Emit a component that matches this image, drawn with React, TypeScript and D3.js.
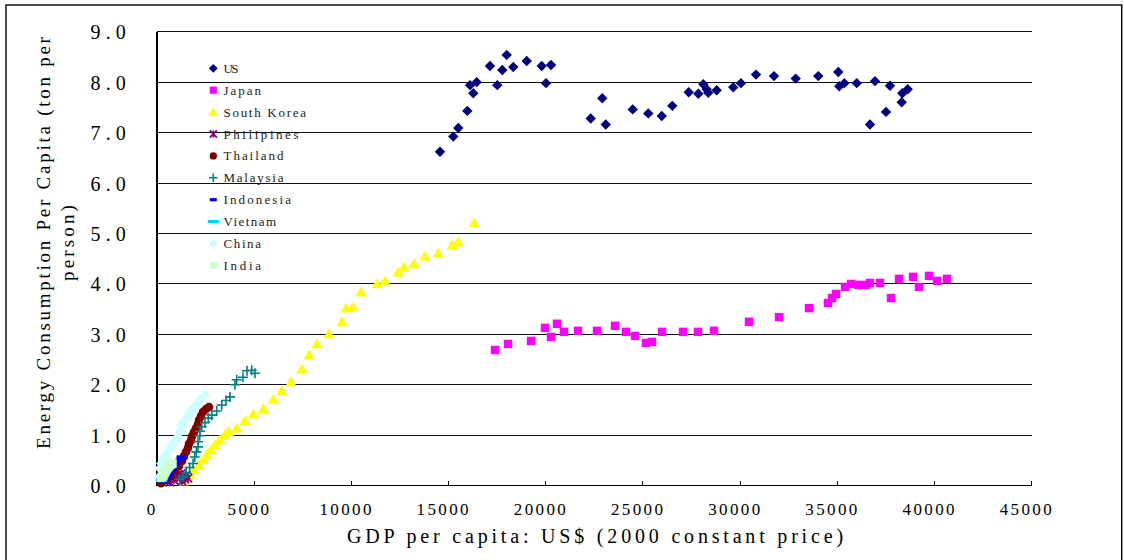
import React from "react";
import * as d3 from "d3";

type Pt = [number, number];

const usData: Pt[] = [
  [14559, 6.62], [15243, 6.92], [15501, 7.09], [15964, 7.43], [16272, 7.78], [16103, 7.94],
  [16447, 8.0], [17131, 8.32], [17507, 7.94], [17764, 8.24], [17990, 8.54], [18330, 8.3],
  [19020, 8.42], [19791, 8.32], [20270, 8.34], [20012, 7.98], [22312, 7.28], [22909, 7.68],
  [23084, 7.16], [24473, 7.46], [25275, 7.38], [25965, 7.33], [26510, 7.53], [27354, 7.8],
  [27848, 7.77], [28105, 7.96], [28280, 7.86], [28362, 7.79], [28794, 7.84], [29648, 7.9],
  [30044, 7.98], [30816, 8.15], [31742, 8.12], [32858, 8.07], [34021, 8.12], [35050, 8.2],
  [35101, 7.92], [35358, 7.98], [35997, 7.98], [36681, 7.16], [36938, 8.02], [37504, 7.41],
  [37710, 7.93], [38311, 7.6], [38343, 7.78], [38620, 7.86],
];

const japanData: Pt[] = [
  [17389, 2.69], [18057, 2.81], [19241, 2.87], [19961, 3.13], [20270, 2.95], [20578, 3.21],
  [20938, 3.05], [21659, 3.07], [22636, 3.07], [23562, 3.17], [24128, 3.05], [24591, 2.97],
  [25157, 2.83], [25466, 2.85], [25980, 3.05], [27061, 3.05], [27832, 3.05], [28655, 3.07],
  [30456, 3.25], [32000, 3.34], [33543, 3.52], [34520, 3.62], [34726, 3.72], [34932, 3.8],
  [35395, 3.94], [35703, 4.0], [36063, 3.98], [36475, 3.98], [36681, 4.02], [37195, 4.02],
  [37761, 3.72], [38173, 4.1], [38893, 4.14], [39202, 3.94], [39716, 4.16], [40128, 4.06],
  [40642, 4.1],
];

const koreaData: Pt[] = [
  [1338, 0.09], [1528, 0.15], [1698, 0.21], [1867, 0.31], [2125, 0.41], [2382, 0.51],
  [2557, 0.61], [2763, 0.71], [2984, 0.81], [3241, 0.91], [3498, 1.02], [3668, 1.07],
  [4100, 1.14], [4527, 1.29], [4954, 1.42], [5469, 1.53], [5983, 1.71], [6415, 1.88],
  [6894, 2.06], [7444, 2.31], [7820, 2.59], [8216, 2.81], [8849, 3.01], [9517, 3.25],
  [9723, 3.52], [10083, 3.54], [10495, 3.84], [11318, 4.0], [11730, 4.06], [12398, 4.23],
  [12707, 4.33], [13222, 4.4], [13787, 4.55], [14456, 4.61], [15176, 4.77], [15485, 4.83],
  [16308, 5.21],
];

const philippinesData: Pt[] = [
  [669, 0.07], [875, 0.11], [1029, 0.15], [1183, 0.17], [1338, 0.19], [1492, 0.21],
  [1440, 0.13], [1286, 0.09], [1595, 0.15], [1100, 0.22], [1250, 0.24],
];

const thailandData: Pt[] = [
  [206, 0.05], [463, 0.11], [720, 0.19], [926, 0.29], [1132, 0.39], [1286, 0.49],
  [1389, 0.59], [1492, 0.67], [1595, 0.75], [1646, 0.83], [1749, 0.9], [1801, 0.98],
  [1903, 1.06], [2006, 1.14], [2109, 1.22], [2161, 1.3], [2264, 1.38], [2367, 1.46],
  [2521, 1.52], [2675, 1.56],
];

const malaysiaData: Pt[] = [
  [1168, 0.13], [1338, 0.18], [1507, 0.25], [1682, 0.36], [1852, 0.44], [1939, 0.57],
  [2022, 0.67], [2109, 0.77], [2109, 0.87], [2197, 0.99], [2212, 1.08], [2300, 1.17],
  [2469, 1.25], [2639, 1.34], [2814, 1.4], [3071, 1.48], [3329, 1.6], [3550, 1.69],
  [3756, 1.76], [4013, 2.0], [4100, 2.1], [4424, 2.15], [4630, 2.28], [4872, 2.29],
  [5042, 2.23],
];

const indonesiaData: Pt[] = [
  [360, 0.07], [463, 0.11], [566, 0.17], [669, 0.23], [772, 0.29], [875, 0.35],
  [977, 0.41], [1029, 0.47], [1132, 0.51], [1183, 0.57], [1286, 0.55], [1389, 0.55],
];

const vietnamData: Pt[] = [
  [220, 0.1], [240, 0.12], [260, 0.13], [280, 0.15], [300, 0.17], [330, 0.2],
  [360, 0.23], [400, 0.27], [440, 0.31], [480, 0.35], [520, 0.4], [560, 0.45],
];

const chinaData: Pt[] = [
  [150, 0.18], [139, 0.34], [221, 0.44], [300, 0.5], [396, 0.57], [480, 0.62],
  [566, 0.67], [650, 0.72], [736, 0.77], [820, 0.82], [911, 0.87], [1000, 0.92],
  [1080, 0.97], [1168, 1.07], [1250, 1.2], [1340, 1.25], [1425, 1.3], [1510, 1.35],
  [1595, 1.4], [1680, 1.45], [1765, 1.5], [1900, 1.55], [2022, 1.6], [2110, 1.65],
  [2197, 1.7], [2454, 1.8],
];

const indiaData: Pt[] = [
  [200, 0.16], [230, 0.17], [260, 0.18], [290, 0.19], [320, 0.21], [350, 0.23],
  [380, 0.25], [410, 0.27], [440, 0.29], [470, 0.31], [500, 0.33], [540, 0.35],
  [580, 0.37], [620, 0.39], [660, 0.41], [700, 0.42], [750, 0.43], [800, 0.44],
];

const seriesNames = [
  "US", "Japan", "South Korea", "Philipines", "Thailand",
  "Malaysia", "Indonesia", "Vietnam", "China", "India",
];
const seriesData: Pt[][] = [
  usData, japanData, koreaData, philippinesData, thailandData,
  malaysiaData, indonesiaData, vietnamData, chinaData, indiaData,
];
const seriesColors = [
  "#000080", "#FF00FF", "#FFFF00", "#800080", "#800000",
  "#008080", "#0000FF", "#00CCFF", "#CCFFFF", "#CCFFCC",
];
const seriesMarkers = [
  "diamond", "square", "triangle", "star", "circle",
  "plus", "dash", "longdash", "diamond", "square",
];

const xTicks = [0, 5000, 10000, 15000, 20000, 25000, 30000, 35000, 40000, 45000];
const yTicks = [0, 1, 2, 3, 4, 5, 6, 7, 8, 9];

const xTitle = "GDP per capita: US$ (2000 constant price)";
const yTitle1 = "Energy Consumption Per Capita (ton per";
const yTitle2 = "person)";

const FONT = "'Liberation Serif', 'Times New Roman', serif";

// monospaced-looking serif text: each character gets a fixed advance width
function MonoText({
  text, x, y, size, cw, anchor = "start", fill = "#000",
}: { text: string; x: number; y: number; size: number; cw: number; anchor?: string; fill?: string }) {
  return (
    <text
      x={x}
      y={y}
      textAnchor={anchor as any}
      fontFamily={FONT}
      fontSize={size}
      textLength={text.length * cw}
      lengthAdjust="spacing"
      fill={fill}
    >
      {text}
    </text>
  );
}

function Marker({ kind, color, cx, cy, s = 1 }: { kind: string; color: string; cx: number; cy: number; s?: number }) {
  switch (kind) {
    case "diamond": {
      const r = 5.2 * s;
      return <path d={`M${cx},${cy - r}L${cx + r},${cy}L${cx},${cy + r}L${cx - r},${cy}Z`} fill={color} />;
    }
    case "square": {
      const r = 4.2 * s;
      return <rect x={cx - r} y={cy - r} width={2 * r} height={2 * r} fill={color} />;
    }
    case "triangle": {
      const r = 5.5 * s;
      return <path d={`M${cx},${cy - r}L${cx + r},${cy + r * 0.8}L${cx - r},${cy + r * 0.8}Z`} fill={color} />;
    }
    case "circle":
      return <circle cx={cx} cy={cy} r={4.3 * s} fill={color} />;
    case "plus": {
      const r = 5 * s;
      return (
        <path d={`M${cx - r},${cy}H${cx + r}M${cx},${cy - r}V${cy + r}`} stroke={color} strokeWidth={1.6} fill="none" />
      );
    }
    case "star": {
      const r = 4.2 * s;
      return (
        <path
          d={`M${cx - r},${cy - r}L${cx + r},${cy + r}M${cx - r},${cy + r}L${cx + r},${cy - r}M${cx},${cy - r}V${cy + r}`}
          stroke={color}
          strokeWidth={1.6}
          fill="none"
        />
      );
    }
    case "dash":
      return <rect x={cx - 3.5} y={cy - 1.6} width={7} height={3.2} fill={color} />;
    case "longdash":
      return <rect x={cx - 5.5} y={cy - 1.6} width={11} height={3.2} fill={color} />;
    default:
      return null;
  }
}

export default function App() {
  const W = 1124;
  const H = 560;
  const x = d3.scaleLinear().domain([0, 45000]).range([157, 1031.7]);
  const y = d3.scaleLinear().domain([0, 9]).range([485.7, 31.7]);
  const fmt = d3.format(".1f");
  const [x0, x1] = x.range();
  const [y0, y1] = y.range();

  const legendX = 213.3;
  const legendY0 = 68.3;
  const legendStep = 21.9;

  return (
    <svg
      width={W}
      height={H}
      style={{ position: "absolute", left: 0, top: 0, background: "#fff" }}
      xmlns="http://www.w3.org/2000/svg"
    >
      <rect x={0} y={0} width={W} height={H} fill="#fff" />
      <rect x={6} y={5} width={1115.7} height={H + 20} fill="none" stroke="#000" strokeWidth={1.4} />

      {yTicks.filter((t) => t > 0).map((t) => (
        <line key={t} x1={x0} x2={x1} y1={y(t)} y2={y(t)} stroke="#111" strokeWidth={1} shapeRendering="crispEdges" />
      ))}

      <line x1={x0} x2={x0} y1={y1} y2={y0} stroke="#000" strokeWidth={1.3} shapeRendering="crispEdges" />
      <line x1={x0} x2={x1} y1={y0} y2={y0} stroke="#000" strokeWidth={1.3} shapeRendering="crispEdges" />
      {xTicks.map((t) => (
        <line key={t} x1={x(t)} x2={x(t)} y1={y0} y2={y0 - 4.5} stroke="#000" strokeWidth={1} shapeRendering="crispEdges" />
      ))}

      {yTicks.map((t) => (
        <MonoText key={t} text={fmt(t)} x={125.7} y={y(t) + 7.5} size={20} cw={11.7} anchor="end" />
      ))}
      {xTicks.map((t) => (
        <MonoText key={t} text={String(t)} x={x(t) - 6} y={515} size={17} cw={10.4} anchor="middle" />
      ))}

      <MonoText text={xTitle} x={595} y={543} size={20} cw={12.1} anchor="middle" />
      <g transform={`translate(50,243) rotate(-90)`}>
        <MonoText text={yTitle1} x={0} y={0} size={19} cw={10.84} anchor="middle" />
        <MonoText text={yTitle2} x={0} y={24} size={19} cw={10.84} anchor="middle" />
      </g>

      {seriesData.map((data, i) => (
        <g key={seriesNames[i]}>
          {data.map((d, j) => (
            <Marker key={j} kind={seriesMarkers[i]} color={seriesColors[i]} cx={x(d[0])} cy={y(d[1])} />
          ))}
        </g>
      ))}

      {seriesNames.map((name, i) => (
        <g key={name}>
          <Marker kind={seriesMarkers[i]} color={seriesColors[i]} cx={legendX} cy={legendY0 + i * legendStep} s={0.85} />
          <MonoText text={name} x={223.5} y={legendY0 + i * legendStep + 4.5} size={13} cw={7.5} fill="#222" />
        </g>
      ))}
    </svg>
  );
}
